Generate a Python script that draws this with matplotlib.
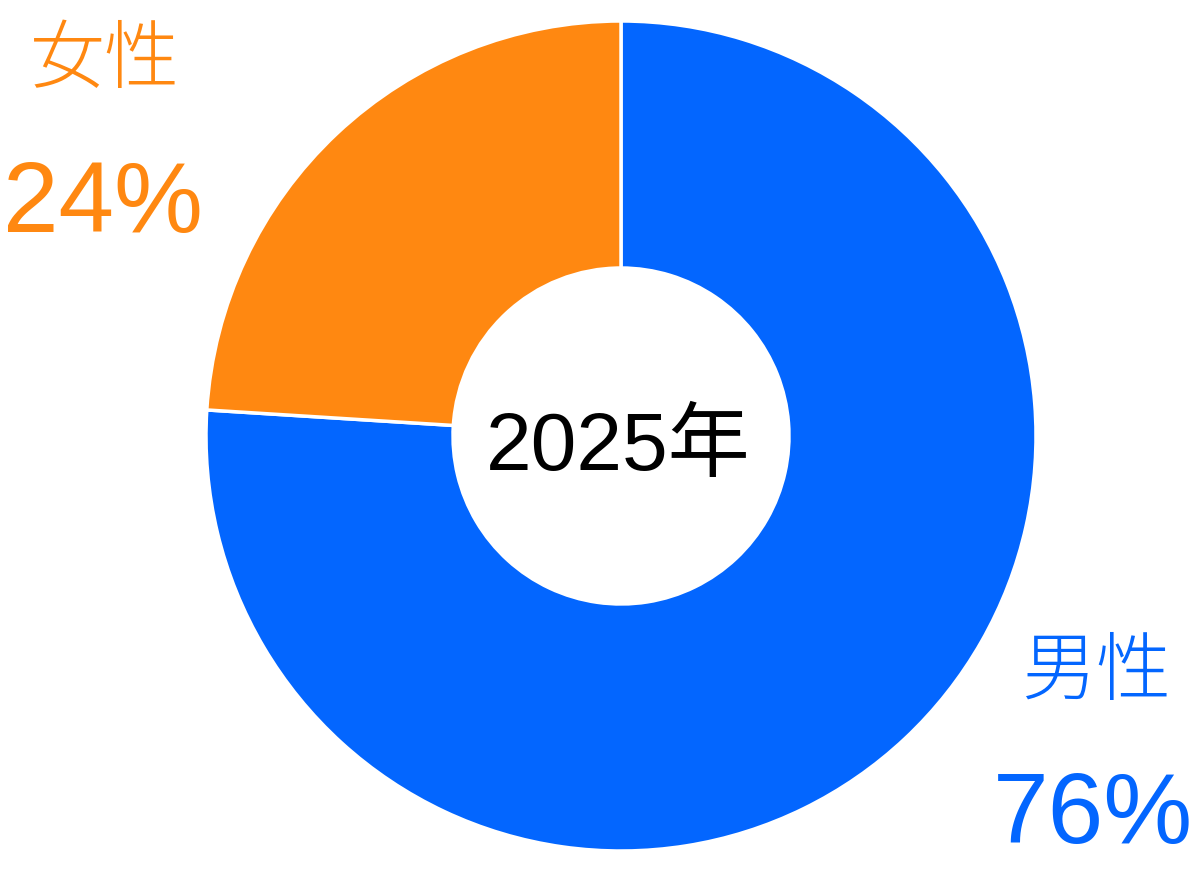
import matplotlib.pyplot as plt

labels = ['男性', '女性']
values = [76, 24]
colors = ['#0366FF', '#FF8811']
year = '2025年'

fonts = ['Liberation Sans', 'Noto Sans CJK JP']

fig = plt.figure(figsize=(12, 8.77), dpi=100)
ax = fig.add_axes([0, 0, 1, 1])

# pie in pixel coords (y inverted, so flip counterclock)
ax.pie(values, colors=colors, startangle=-90, counterclock=True,
       center=(621, 436), radius=415, frame=True,
       wedgeprops=dict(width=247, edgecolor='white', linewidth=2.5))
ax.set_xlim(0, 1200)
ax.set_ylim(877, 0)
ax.set_aspect('equal')
ax.axis('off')

ax.text(618, 470, year, ha='center', va='baseline', fontsize=59,
        color='black', family=fonts)

ax.text(105, 63, labels[1], ha='center', va='center', fontsize=54,
        color=colors[1], family=fonts, weight='light')
ax.text(103, 232, f'{values[1]}%', ha='center', va='baseline', fontsize=72,
        color=colors[1], family=fonts)

ax.text(1096, 674, labels[0], ha='center', va='center', fontsize=54,
        color=colors[0], family=fonts, weight='light')
ax.text(1093, 843, f'{values[0]}%', ha='center', va='baseline', fontsize=72,
        color=colors[0], family=fonts)

fig.savefig('out.png', dpi=100)
